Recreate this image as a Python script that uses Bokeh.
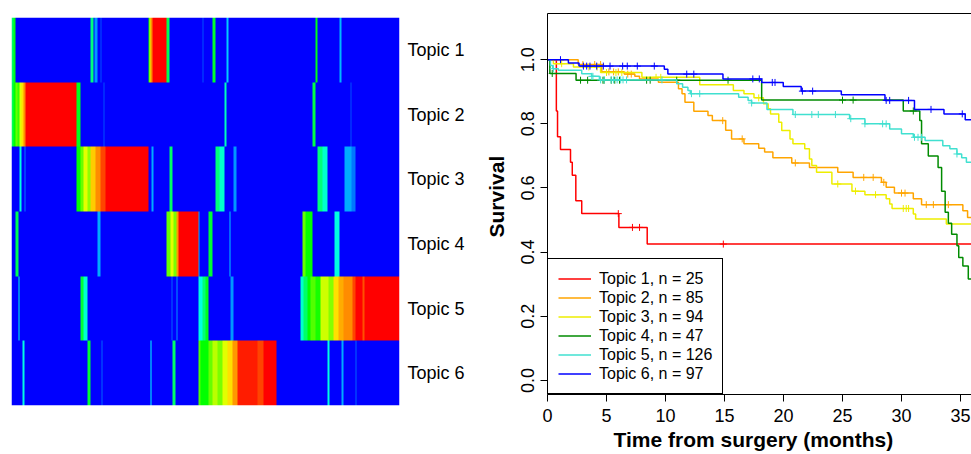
import math
import colorsys
import numpy as np
from bokeh.plotting import figure
from bokeh.models import (LinearColorMapper, FixedTicker, LinearAxis, Legend, LegendItem,
                          PrintfTickFormatter, Range1d, Title)
from bokeh.embed import file_html
from bokeh.resources import INLINE

# ---------------- data: topic-proportion heatmap (runs of samples: start, end, proportion) ----------
topics = ["Topic 1", "Topic 2", "Topic 3", "Topic 4", "Topic 5", "Topic 6"]
n_samples = 388

topic1_runs = [(0, 2, 0.40), (2, 4, 0.48), (79, 82, 0.38), (83, 86, 0.15), (89, 90, 0.08),
               (137, 138, 0.50), (138, 139, 0.72), (139, 141, 0.86), (141, 155, 1.0), (155, 158, 0.42),
               (191, 192, 0.08), (201, 204, 0.46), (215, 217, 0.20), (304, 306, 0.48), (328, 330, 0.18)]
topic2_runs = [(0, 2, 0.42), (2, 4, 0.50), (4, 6, 0.60), (6, 8, 0.55), (8, 10, 0.72), (10, 12, 0.78),
               (12, 14, 0.86), (14, 65, 1.0), (65, 69, 0.47), (92, 93, 0.08), (213, 215, 0.32),
               (301, 304, 0.43), (339, 340, 0.08)]
topic3_runs = [(8, 10, 0.28), (13, 14, 0.12), (65, 69, 0.50), (69, 72, 0.60), (72, 76, 0.72),
               (76, 79, 0.64), (79, 84, 0.80), (84, 89, 0.86), (89, 94, 0.93), (94, 137, 1.0),
               (140, 142, 0.17), (158, 161, 0.40), (204, 208, 0.38), (208, 213, 0.30), (222, 225, 0.15),
               (306, 311, 0.38), (311, 316, 0.30), (333, 340, 0.17), (340, 344, 0.12)]
topic4_runs = [(4, 7, 0.42), (86, 89, 0.17), (155, 159, 0.60), (159, 162, 0.72), (162, 165, 0.62),
               (165, 167, 0.85), (167, 187, 1.0), (187, 188, 0.17), (197, 201, 0.45), (218, 219, 0.20),
               (291, 294, 0.60), (294, 301, 0.50), (323, 328, 0.28)]
topic5_runs = [(7, 8, 0.28), (69, 72, 0.45), (72, 76, 0.30), (160, 161, 0.10), (165, 166, 0.15),
               (187, 191, 0.28), (191, 194, 0.38), (194, 197, 0.47), (219, 222, 0.15),
               (289, 292, 0.30), (292, 296, 0.40), (296, 299, 0.50), (299, 304, 0.58), (304, 309, 0.52),
               (309, 317, 0.70), (317, 322, 0.63), (322, 327, 0.78), (327, 332, 0.83), (332, 341, 0.86),
               (341, 344, 0.93), (344, 351, 1.0), (351, 353, 0.92), (353, 388, 1.0)]
topic6_runs = [(11, 13, 0.28), (76, 79, 0.45), (90, 91, 0.10), (139, 140, 0.25), (161, 164, 0.40),
               (187, 189, 0.58), (189, 197, 0.50), (197, 201, 0.60), (201, 206, 0.68), (206, 211, 0.62),
               (211, 216, 0.72), (216, 221, 0.78), (221, 226, 0.85), (226, 246, 0.97), (246, 252, 0.93),
               (252, 265, 1.0), (316, 318, 0.28), (330, 332, 0.17), (344, 345, 0.10)]

# ---------------- data: Kaplan-Meier curves (event times / survival after event / censor times) ----------
group_n = [25, 85, 94, 47, 126, 97]
surv_colors = ["#FF0000", "#FFA500", "#EEEE00", "#008B00", "#40E0D0", "#0000FF"]

t1_times = [0.75, 0.85, 1.1, 1.95, 2.1, 2.4, 2.9, 6.05, 8.45]
t1_surv = [0.84, 0.76, 0.72, 0.68, 0.64, 0.56, 0.52, 0.477, 0.425]
t1_cens = [6.0, 7.2, 7.8, 14.9, 40.0]

t2_times = [2.6, 4.6, 6.5, 7.4, 7.8, 9.4, 11.1, 11.4, 11.65, 12.4, 13.6, 13.97, 15.1, 15.6, 16.65,
            17.9, 18.4, 19.1, 20.7, 22.2, 24.6, 25.9, 28.3, 28.7, 29.4, 31.0, 31.7, 35.2, 35.6]
t2_surv = [0.985, 0.962, 0.955, 0.948, 0.94, 0.93, 0.909, 0.894, 0.867, 0.839, 0.826, 0.81, 0.78,
           0.753, 0.7375, 0.724, 0.712, 0.694, 0.678, 0.664, 0.649, 0.633, 0.6175, 0.602, 0.584,
           0.566, 0.548, 0.529, 0.508]
t2_cens = [3.0, 4.0, 4.5, 5.2, 5.6, 6.0, 6.8, 7.1, 14.85, 16.5, 21.0, 26.8, 27.6, 28.5, 30.0, 30.3,
           32.1, 32.7, 33.97, 40.0]

t3_times = [0.5, 2.2, 4.5, 8.0, 12.9, 15.75, 16.65, 17.5, 18.3, 18.7, 18.9, 19.6, 19.85, 20.55, 20.8,
            21.8, 22.2, 22.4, 22.8, 24.1, 25.8, 26.9, 28.7, 29.0, 29.2, 31.0, 31.2, 33.8]
t3_surv = [0.9875, 0.977, 0.96, 0.945, 0.922, 0.904, 0.894, 0.881, 0.8625, 0.847, 0.831, 0.805, 0.779,
           0.753, 0.7375, 0.722, 0.69, 0.67, 0.649, 0.6125, 0.59, 0.579, 0.566, 0.55, 0.536, 0.519,
           0.503, 0.4875]
t3_cens = [1.2, 3.5, 4.2, 5.0, 5.8, 6.3, 9.2, 9.6, 17.9, 24.6, 26.1, 27.8, 30.15, 30.4, 30.6, 40.0]

t4_times = [0.2, 2.42, 18.15, 30.15, 31.55, 31.7, 32.27, 33.1, 33.4, 33.7, 33.97, 34.25, 34.7, 34.85,
            35.2, 35.66]
t4_surv = [0.957, 0.936, 0.874, 0.84, 0.81, 0.7375, 0.70, 0.664, 0.59, 0.524, 0.49, 0.456, 0.42,
           0.383, 0.357, 0.316]
t4_cens = [0.4, 2.8, 3.4, 4.7, 4.8, 5.4, 5.7, 6.1, 8.4, 8.7, 10.95, 15.3, 25.0, 25.9, 31.0, 40.0]

t5_times = [0.25, 0.44, 0.92, 2.9, 3.74, 4.4, 10.95, 11.45, 11.9, 12.1, 16.2, 17.0, 17.3, 18.6, 20.8,
            25.6, 26.9, 29.0, 30.0, 31.0, 32.0, 33.5, 34.1, 34.7, 35.1, 35.5]
t5_surv = [0.982, 0.972, 0.967, 0.956, 0.948, 0.937, 0.925, 0.914, 0.904, 0.894, 0.883, 0.873, 0.865,
           0.845, 0.829, 0.816, 0.80, 0.784, 0.769, 0.758, 0.748, 0.732, 0.722, 0.706, 0.694, 0.68]
t5_cens = [0.5, 3.75, 3.85, 4.5, 4.8, 5.4, 5.6, 5.9, 6.2, 6.4, 6.7, 9.7, 12.2, 12.9, 17.3, 21.0, 22.4,
           22.95, 24.4, 25.7, 26.9, 28.4, 28.7, 31.1, 31.4, 31.7, 34.7, 40.0]

t6_times = [1.77, 2.67, 9.9, 10.2, 14.87, 18.15, 19.98, 21.5, 24.9, 28.6, 31.1, 33.6, 35.4]
t6_surv = [0.99, 0.98, 0.97, 0.955, 0.94, 0.929, 0.916, 0.902, 0.891, 0.873, 0.845, 0.831, 0.813]
t6_cens = [1.1, 3.04, 3.32, 3.6, 4.17, 4.73, 5.3, 6.37, 6.76, 7.61, 9.05, 11.8, 12.4, 17.4, 17.95,
           19.05, 19.28, 21.6, 22.47, 28.7, 29.0, 30.6, 32.5, 35.15, 40.0]

x_ticks = [0, 5, 10, 15, 20, 25, 30, 35]
y_ticks = [0.0, 0.2, 0.4, 0.6, 0.8, 1.0]
x_title = "Time from surgery (months)"
y_title = "Survival"

FONT = "Liberation Sans"

# ---------------- left panel: heatmap ----------------
all_runs = [topic1_runs, topic2_runs, topic3_runs, topic4_runs, topic5_runs, topic6_runs]
M = np.zeros((len(topics), n_samples))
for k, runs in enumerate(all_runs):
    for a, b, v in runs:
        M[len(topics) - 1 - k, a:b] = v

palette = []
for i in range(256):
    r, g, b = colorsys.hsv_to_rgb((240.0 * (1 - i / 255.0)) / 360.0, 1, 1)
    palette.append("#%02x%02x%02x" % (int(round(r * 255)), int(round(g * 255)), int(round(b * 255))))
mapper = LinearColorMapper(palette=palette, low=0, high=1)

p1 = figure(width=468, height=454, x_range=Range1d(0, n_samples), y_range=Range1d(0, len(topics)),
            output_backend="svg", toolbar_location=None, x_axis_location=None, y_axis_location="right",
            min_border_left=11, min_border_right=69, min_border_top=17, min_border_bottom=49)
p1.image(image=[M], x=0, y=0, dw=n_samples, dh=len(topics), color_mapper=mapper)
p1.grid.visible = False
p1.outline_line_color = None
centers = [len(topics) - 0.5 - k for k in range(len(topics))]
ya = p1.yaxis[0]
ya.ticker = FixedTicker(ticks=centers)
ya.major_label_overrides = {c: t for c, t in zip(centers, topics)}
ya.axis_line_color = None
ya.major_tick_line_color = None
ya.minor_tick_line_color = None
ya.major_tick_out = 0
ya.major_tick_in = 0
ya.major_label_standoff = 8
ya.major_label_text_font = FONT
ya.major_label_text_font_size = "18px"
ya.major_label_text_color = "black"

# ---------------- right panel: survival ----------------
p2 = figure(width=503, height=454, x_range=Range1d(0, 424 / 11.8), y_range=Range1d(-0.044, 1.144),
            output_backend="svg", toolbar_location=None,
            min_border_left=79, min_border_right=0, min_border_top=13, min_border_bottom=60)
p2.grid.visible = False
p2.outline_line_color = None

all_times = [t1_times, t2_times, t3_times, t4_times, t5_times, t6_times]
all_surv = [t1_surv, t2_surv, t3_surv, t4_surv, t5_surv, t6_surv]
all_cens = [t1_cens, t2_cens, t3_cens, t4_cens, t5_cens, t6_cens]
items = []
for k in range(len(topics)):
    tt = np.array(all_times[k])
    ss = np.array(all_surv[k])
    cc = np.array(all_cens[k])
    end = cc.max()
    xs = np.concatenate([[0.0], tt, [end]])
    ys = np.concatenate([[1.0], ss, [ss[-1]]])
    r = p2.step(xs, ys, mode="after", line_color=surv_colors[k], line_width=1.5)
    idx = np.searchsorted(tt, cc, side="right")
    cs = np.where(idx == 0, 1.0, ss[np.maximum(idx - 1, 0)])
    p2.scatter(cc, cs, marker="cross", size=7, line_color=surv_colors[k], line_width=1)
    items.append(LegendItem(label="%s, n = %d" % (topics[k], group_n[k]), renderers=[r]))

legend = Legend(items=items, location="bottom_left", margin=0, padding=10, spacing=0,
                glyph_width=33, glyph_height=19, label_height=19, label_standoff=8,
                label_text_font=FONT, label_text_font_size="16px", label_text_color="black",
                border_line_color="black", border_line_width=1, border_line_alpha=1,
                background_fill_color="white", background_fill_alpha=1)
p2.add_layout(legend)

xa = p2.xaxis[0]
xa.ticker = FixedTicker(ticks=x_ticks)
xa.major_label_standoff = 7
ya2 = p2.yaxis[0]
ya2.ticker = FixedTicker(ticks=y_ticks)
ya2.formatter = PrintfTickFormatter(format="%.1f")
ya2.major_label_orientation = "parallel"
ya2.major_label_standoff = 6
for ax in (xa, ya2):
    ax.axis_line_color = "black"
    ax.axis_line_width = 1
    ax.major_tick_line_color = "black"
    ax.major_tick_out = 7
    ax.major_tick_in = 0
    ax.minor_tick_line_color = None
    ax.major_label_text_font = FONT
    ax.major_label_text_font_size = "18px"
    ax.major_label_text_color = "black"

top_axis = LinearAxis(ticker=FixedTicker(ticks=[]), axis_line_color="black", axis_line_width=1,
                      major_tick_out=0, major_tick_in=0, minor_tick_out=0, minor_tick_in=0,
                      major_tick_line_color=None, minor_tick_line_color=None,
                      major_label_standoff=0, major_label_text_font_size="0px")
p2.add_layout(top_axis, "above")

# axis titles as side-panel titles (offset measured along the frame edge)
p2.add_layout(Title(text=x_title, align="left", offset=66, standoff=3,
                    text_font=FONT, text_font_size="21px", text_font_style="bold",
                    text_color="black"), "below")
p2.add_layout(Title(text=y_title, align="left", offset=157, standoff=22,
                    text_font=FONT, text_font_size="21px", text_font_style="bold",
                    text_color="black"), "left")

# two independent roots placed side by side (so their frames are not aligned to each other)
page_template = """
{% block contents %}
<div style="display: flex; flex-direction: row; align-items: flex-start;">
{{ super() }}
</div>
{% endblock %}
"""
open("out.html", "w").write(file_html([p1, p2], INLINE, template=page_template))
